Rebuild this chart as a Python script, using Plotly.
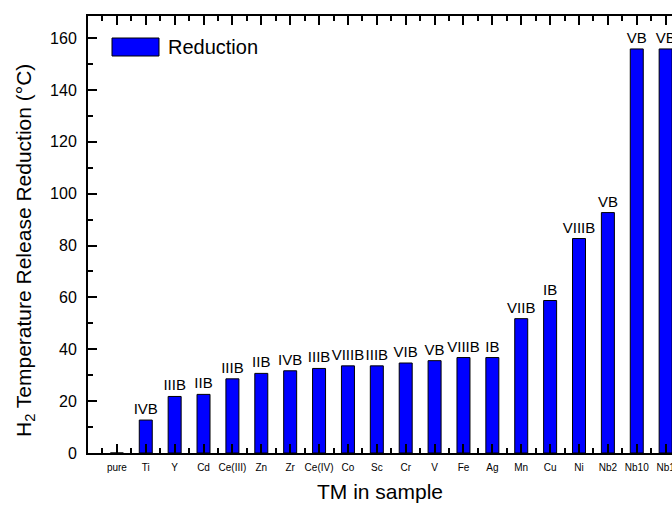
import plotly.graph_objects as go

categories = ["pure", "Ti", "Y", "Cd", "Ce(III)", "Zn", "Zr", "Ce(IV)", "Co", "Sc",
              "Cr", "V", "Fe", "Ag", "Mn", "Cu", "Ni", "Nb2", "Nb10", "Nb1"]
reduction = [0, 12.7, 21.8, 22.6, 28.6, 30.7, 31.7, 32.6, 33.6, 33.6,
             34.7, 35.6, 36.8, 36.8, 51.8, 58.8, 82.7, 92.7, 155.8, 155.8]
groups = ["", "IVB", "IIIB", "IIB", "IIIB", "IIB", "IVB", "IIIB", "VIIIB", "IIIB",
          "VIB", "VB", "VIIIB", "IB", "VIIB", "IB", "VIIIB", "VB", "VB", "VB"]

FONT = "Arial, Liberation Sans, sans-serif"
positions = list(range(len(categories)))

fig = go.Figure()
fig.add_trace(go.Bar(
    x=positions, y=reduction, width=0.45,
    marker=dict(color="#0000FF", line=dict(color="black", width=1)),
    text=groups, textposition="outside", constraintext="none", cliponaxis=False,
    textfont=dict(family=FONT, size=15, color="black"),
    name="Reduction", showlegend=False,
))

W, H = 672, 505
L, R, T, B = 88, 0, 16, 52
pw, ph = W - L - R, H - T - B

def px2paper_x(px):
    return (px - L) / pw

def px2paper_y(py):
    return (H - B - py) / ph

# legend box drawn manually
fig.add_shape(type="rect", xref="paper", yref="paper",
              x0=px2paper_x(112), x1=px2paper_x(159),
              y0=px2paper_y(56), y1=px2paper_y(38),
              fillcolor="#0000FF", line=dict(color="black", width=1))
fig.add_annotation(xref="paper", yref="paper", x=px2paper_x(166), y=px2paper_y(47),
                   text="Reduction", showarrow=False, xanchor="left", yanchor="middle",
                   font=dict(family=FONT, size=20, color="black"))
# y-axis title
fig.add_annotation(xref="paper", yref="paper", x=px2paper_x(25), y=px2paper_y(251),
                   text="H<sub>2</sub> Temperature Release Reduction (°C)", textangle=-90,
                   showarrow=False, xanchor="center", yanchor="middle",
                   font=dict(family=FONT, size=21, color="black"))

fig.update_layout(
    width=W, height=H,
    margin=dict(l=L, r=R, t=T, b=B, autoexpand=False),
    plot_bgcolor="white", paper_bgcolor="white",
    font=dict(family=FONT, color="black"),
    showlegend=False,
)
fig.update_xaxes(
    automargin=False,
    range=[-1, 19.22],
    tickmode="array", tickvals=positions, ticktext=categories,
    tickfont=dict(size=10, color="black"), ticks="inside", ticklen=9, tickwidth=1.5,
    tickcolor="black", ticklabelstandoff=4, ticklabeloverflow="allow",
    minor=dict(tickmode="array", tickvals=[p - 0.5 for p in positions] + [19.5],
               ticks="inside", ticklen=5, tickwidth=1.5, tickcolor="black"),
    showline=True, linecolor="black", linewidth=2, mirror="ticks",
    showgrid=False, zeroline=False,
    title=dict(text="TM in sample", font=dict(size=21), standoff=12),
)
fig.update_yaxes(
    automargin=False,
    range=[0, 168.5],
    tickmode="linear", tick0=0, dtick=20,
    tickfont=dict(size=16, color="black"), ticks="inside", ticklen=9, tickwidth=1.5,
    tickcolor="black", ticklabelstandoff=6,
    minor=dict(tickmode="linear", tick0=0, dtick=10, ticks="inside", ticklen=5,
               tickwidth=1.5, tickcolor="black"),
    showline=True, linecolor="black", linewidth=2, mirror=False,
    showgrid=False, zeroline=False,
)

fig.write_html(
    "out.html",
    config={"displayModeBar": False},
    post_script="document.body.style.margin='0';document.body.style.overflow='hidden';",
)
